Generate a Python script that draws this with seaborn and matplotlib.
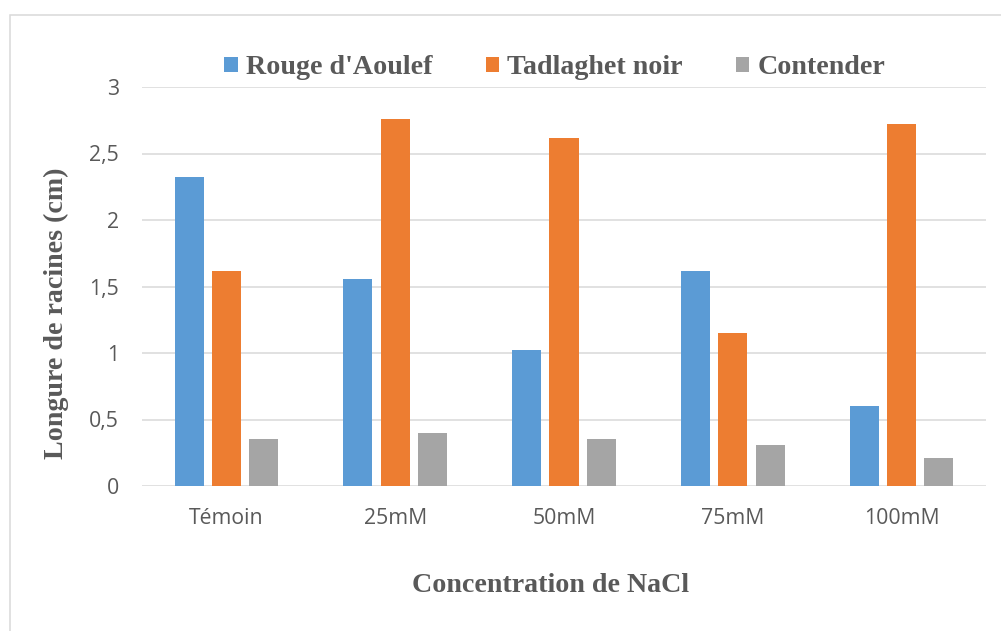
import matplotlib
matplotlib.use("Agg")
import matplotlib.pyplot as plt
import seaborn as sns
import pandas as pd
from matplotlib.patches import Rectangle
from matplotlib.ticker import FuncFormatter

categories = ["Témoin", "25mM", "50mM", "75mM", "100mM"]
series_names = ["Rouge d'Aoulef", "Tadlaghet noir", "Contender"]
rouge = [2.32, 1.56, 1.02, 1.62, 0.60]
tadlaghet = [1.62, 2.76, 2.62, 1.15, 2.72]
contender = [0.35, 0.40, 0.35, 0.31, 0.21]
colors = ["#5B9BD5", "#ED7D31", "#A5A5A5"]
y_ticks = [0, 0.5, 1, 1.5, 2, 2.5, 3]

rows = []
for name, vals in zip(series_names, [rouge, tadlaghet, contender]):
    for c, v in zip(categories, vals):
        rows.append({"cat": c, "var": name, "val": v})
df = pd.DataFrame(rows)

sns.set_style("white")
plt.rcParams["font.family"] = ["Open Sans", "DejaVu Sans"]

W, H = 1001, 631
fig = plt.figure(figsize=(W / 100, H / 100), dpi=100)
ax = fig.add_axes([142 / W, (H - 486) / H, (986 - 142) / W, (486 - 87) / H])

sns.barplot(data=df, x="cat", y="val", hue="var", order=categories,
            hue_order=series_names, palette=colors, saturation=1,
            width=0.663, gap=0.22, linewidth=0, ax=ax, legend=True)

ax.set_ylim(0, 3)
ax.set_yticks(y_ticks)
ax.yaxis.set_major_formatter(FuncFormatter(lambda v, p: f"{v:g}".replace(".", ",")))
ax.grid(axis="y", color="#D9D9D9", linewidth=1.1)
ax.set_axisbelow(True)
for s in ax.spines.values():
    s.set_visible(False)
ax.tick_params(axis="both", length=0, labelsize=15.3, colors="#595959")
ax.tick_params(axis="y", pad=16.5)
ax.tick_params(axis="x", pad=16)
ax.set_xlabel("")
ax.set_ylabel("")

serif = {"family": "Liberation Serif", "weight": "bold", "size": 20.2}
fig.text(551 / W, (H - 592) / H, "Concentration de NaCl", ha="center", va="baseline",
         color="#595959", fontdict=serif)
fig.text(56 / W, (H - 313) / H, "Longure de racines (cm)", ha="center", va="center",
         rotation=90, color="#595959", fontdict=serif)

handles, labels = ax.get_legend_handles_labels()
ax.get_legend().remove()
leg = fig.legend(handles, labels, loc="center", bbox_to_anchor=(555 / W, (H - 68) / H),
                 ncol=3, frameon=False, handlelength=0.47, handleheight=0.47,
                 handletextpad=0.3, columnspacing=1.9,
                 prop={"family": "Liberation Serif", "weight": "bold", "size": 20.2})
for t in leg.get_texts():
    t.set_color("#595959")

fig.patches.append(Rectangle((9.5 / W, -0.1), 1.2, (H - 15) / H + 0.1,
                             transform=fig.transFigure, fill=False,
                             edgecolor="#D9D9D9", linewidth=1.1))

fig.savefig("out.png", dpi=100)
